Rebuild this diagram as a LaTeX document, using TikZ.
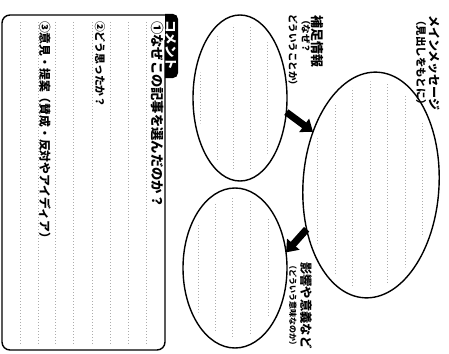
\documentclass[tikz,border=0pt]{standalone}
\usepackage{fontspec}
\setmainfont{Noto Sans CJK JP}
\usetikzlibrary{shapes.geometric,arrows.meta}
\begin{document}
\begin{tikzpicture}[x=1pt,y=-1pt,
  vtxt/.style={rotate=-90,anchor=west,inner sep=0pt,font=\bfseries\fontsize{#1}{#1}\selectfont},
  bubble/.style={draw,ellipse,line width=1.4pt,inner sep=0pt,outer sep=0pt},
  dots/.style={gray!65,line width=0.5pt,dash pattern=on 0.7pt off 2.3pt},
  bigarrow/.style={line width=7pt,-{Triangle[width=16pt,length=11pt]}}
]
\useasboundingbox (0,0) rectangle (449,353);
\clip (0,0) rectangle (449,353);

% comment box
\foreach \x in {20,38,55,73,92,110,128,146} \draw[dots] (\x,22) -- (\x,344);
\draw[line width=1.4pt,rounded corners=8pt] (165,40) -- (165,350) -- (2,350) -- (2,15) -- (172,15);
\begin{scope}
  \clip (165,0) rectangle (200,100);
  \fill[black,rounded corners=5pt] (155,14) rectangle (178,78);
\end{scope}
\node[vtxt=12.5,text=white] (tab) at (171.5,20) {コメント};
\node[vtxt=13.3] (q1) at (158,21) {①なぜこの記事を選んだのか？};
\node[vtxt=10.8] (q2) at (100,21) {②どう思ったか？};
\node[vtxt=11.8] (q3) at (45,21) {③意見・提案（賛成・反対やアイディア）};

% ellipses
\node[bubble,minimum width=94pt,minimum height=166pt] (e1) at (240,98) {};
\node[bubble,minimum width=104pt,minimum height=160pt] (e2) at (235,268) {};
\node[bubble,minimum width=136pt,minimum height=226pt,rotate=-3.5] (main) at (371,185) {};

\begin{scope}
  \clip (240,98) ellipse [x radius=42, y radius=74];
  \foreach \x in {200,217,233,250,267} \draw[dots] (\x,0) -- (\x,353);
\end{scope}
\begin{scope}
  \clip (235,268) ellipse [x radius=47, y radius=71];
  \foreach \x in {198,215,232,250,268} \draw[dots] (\x,180) -- (\x,353);
\end{scope}
\begin{scope}
  \clip[rotate around={-3.5:(371,185)}] (371,185) ellipse [x radius=62, y radius=104];
  \foreach \x in {317,335,352,370,387,405,422} \draw[dots] (\x,60) -- (\x,310);
\end{scope}

% labels
\node[vtxt=12] (m1) at (434,15) {メインメッセージ};
\node[vtxt=10.5] (m2) at (421,15) {（見出しをもとに）};
\node[vtxt=13] (s1) at (317,15) {補足情報};
\node[vtxt=9.5] (s2) at (306,15) {（なぜ？};
\node[vtxt=9.5] (s3) at (293,14) {どういうことか）};
\node[vtxt=12.3] (i1) at (306,262) {影響や意義など};
\node[vtxt=8] (i2) at (293,261) {（どういう意味なのか）};

% arrows
\draw[bigarrow] (e1.-17) -- (main.141);
\draw[bigarrow] (main.-142) -- (e2.17);
\end{tikzpicture}
\end{document}
